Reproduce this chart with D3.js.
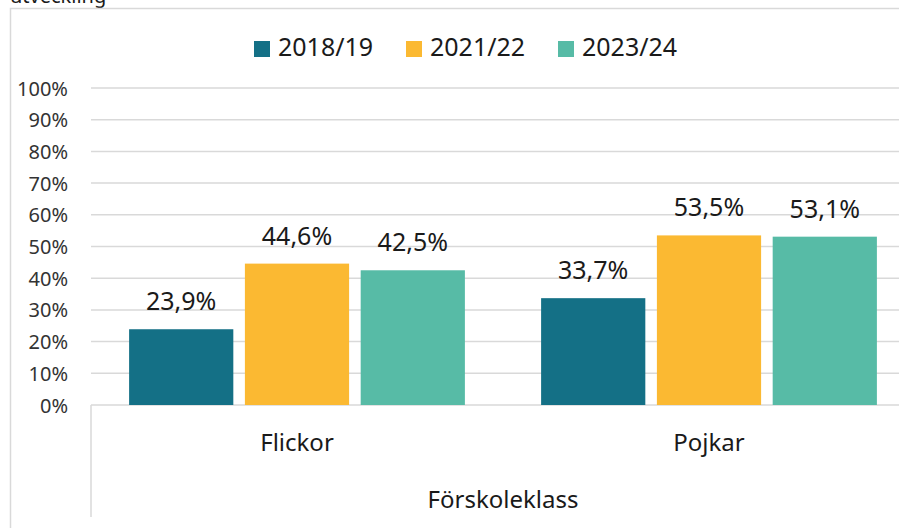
<!DOCTYPE html>
<html>
<head>
<meta charset="utf-8">
<script src="https://cdn.jsdelivr.net/npm/d3@7"></script>
<style>
  html, body { margin: 0; padding: 0; background: #fff; }
  svg { display: block; font-family: "Noto Sans", "Open Sans", sans-serif; }
</style>
</head>
<body>
<svg id="chart" width="899" height="528"></svg>
<script>
const categories = ["Flickor", "Pojkar"];
const outerCategory = "Förskoleklass";
const seriesNames = ["2018/19", "2021/22", "2023/24"];
const values2018 = [23.9, 33.7];
const values2021 = [44.6, 53.5];
const values2023 = [42.5, 53.1];
const seriesValues = [values2018, values2021, values2023];
const seriesColors = ["#147086", "#fbb932", "#57bba6"];
const yTicks = [0, 10, 20, 30, 40, 50, 60, 70, 80, 90, 100];
const titleFragment = "utveckling";

const svg = d3.select("#chart");
const W = 899, H = 528;
const plot = { left: 91, right: 915, top: 88, bottom: 405 };

// cut-off title text at top
svg.append("text")
  .attr("x", 10).attr("y", 3)
  .attr("font-size", 20).attr("fill", "#1a1a1a")
  .text(titleFragment);

// chart area border
svg.append("rect")
  .attr("x", 10.5).attr("y", 8.5)
  .attr("width", 1000).attr("height", 1000)
  .attr("fill", "none").attr("stroke", "#d9d9d9").attr("stroke-width", 1.5);

const y = d3.scaleLinear().domain([0, 100]).range([plot.bottom, plot.top]);
const x0 = d3.scaleBand().domain(categories).range([plot.left, plot.right])
  .paddingInner(0.185).paddingOuter(0.0925);
const x1 = d3.scaleBand().domain(seriesNames).range([0, x0.bandwidth()])
  .paddingInner(0.1).paddingOuter(0);

// gridlines
svg.append("g").selectAll("line").data(yTicks).join("line")
  .attr("x1", plot.left).attr("x2", plot.right)
  .attr("y1", d => y(d)).attr("y2", d => y(d))
  .attr("stroke", "#d9d9d9").attr("stroke-width", 1.5);

// y axis labels
const yAxis = d3.axisLeft(y).tickValues(yTicks).tickFormat(d => d + "%").tickSize(0).tickPadding(0);
const gy = svg.append("g").attr("transform", "translate(68,0)").call(yAxis);
gy.select(".domain").remove();
gy.selectAll("text")
  .attr("font-family", "Noto Sans, sans-serif")
  .attr("font-size", 20).attr("fill", "#333")
  .attr("dy", "0.35em");

// bars
const groups = svg.append("g").selectAll("g").data(categories).join("g")
  .attr("transform", d => `translate(${x0(d)},0)`);

groups.selectAll("rect")
  .data((c, ci) => seriesNames.map((s, si) => ({ s, si, v: seriesValues[si][ci] })))
  .join("rect")
  .attr("x", d => x1(d.s))
  .attr("y", d => y(d.v))
  .attr("width", x1.bandwidth())
  .attr("height", d => y(0) - y(d.v))
  .attr("fill", d => seriesColors[d.si]);

groups.selectAll("text.val")
  .data((c, ci) => seriesNames.map((s, si) => ({ s, si, v: seriesValues[si][ci] })))
  .join("text")
  .attr("class", "val")
  .attr("x", d => x1(d.s) + x1.bandwidth() / 2)
  .attr("y", d => y(d.v) - 19)
  .attr("text-anchor", "middle")
  .attr("font-size", 25).attr("fill", "#1a1a1a")
  .text(d => d3.format(".1f")(d.v).replace(".", ",") + "%");

// category axis lines
svg.append("line")
  .attr("x1", plot.left).attr("x2", plot.left)
  .attr("y1", plot.bottom).attr("y2", 517)
  .attr("stroke", "#d9d9d9").attr("stroke-width", 1.5);
svg.append("line")
  .attr("x1", plot.right).attr("x2", plot.right)
  .attr("y1", plot.bottom).attr("y2", 517)
  .attr("stroke", "#d9d9d9").attr("stroke-width", 1.5);

// category labels
svg.append("g").selectAll("text").data(categories).join("text")
  .attr("x", d => x0(d) + x0.bandwidth() / 2)
  .attr("y", 451)
  .attr("text-anchor", "middle")
  .attr("font-size", 24).attr("fill", "#1a1a1a")
  .text(d => d);

svg.append("text")
  .attr("x", (plot.left + plot.right) / 2)
  .attr("y", 508)
  .attr("text-anchor", "middle")
  .attr("font-size", 24).attr("fill", "#1a1a1a")
  .text(outerCategory);

// legend
const legend = svg.append("g").selectAll("g").data(seriesNames).join("g")
  .attr("transform", (d, i) => `translate(${254 + i * 152},0)`);
legend.append("rect")
  .attr("x", 0).attr("y", 41).attr("width", 16).attr("height", 16)
  .attr("fill", (d, i) => seriesColors[i]);
legend.append("text")
  .attr("x", 24).attr("y", 56)
  .attr("font-size", 25).attr("fill", "#1a1a1a")
  .text(d => d);
</script>
</body>
</html>
